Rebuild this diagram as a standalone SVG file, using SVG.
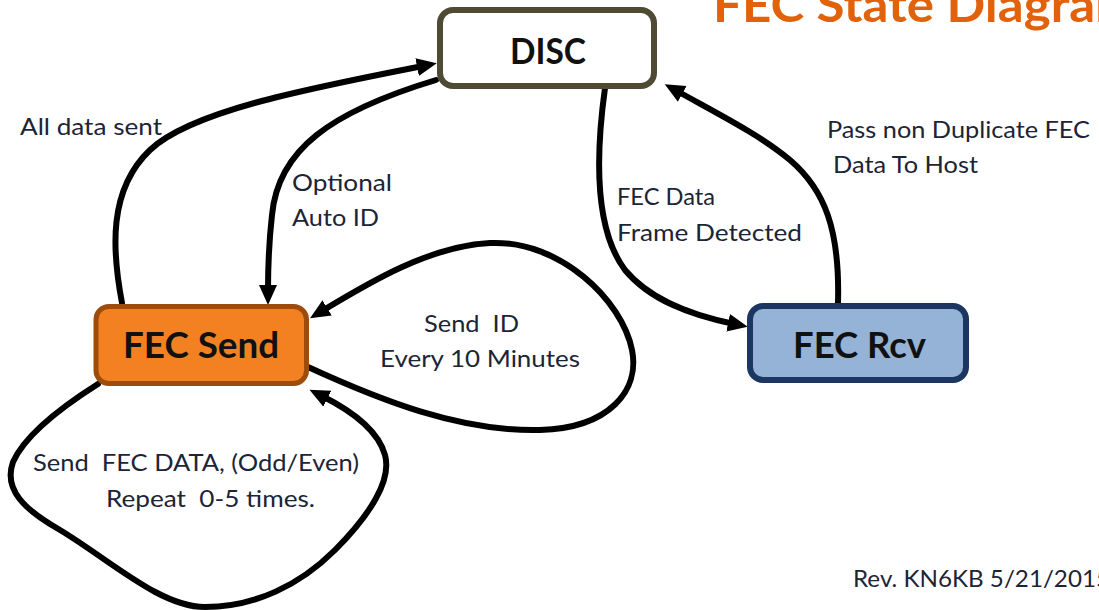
<svg xmlns="http://www.w3.org/2000/svg" width="1099" height="610" viewBox="0 0 1099 610">
<style>
.lbl{font-family:Lato,"Liberation Sans",sans-serif;font-size:24px;fill:#1c2436}
.ttl{font-family:Lato,"Liberation Sans",sans-serif;font-size:36px;font-weight:bold;fill:#111}
.edge{fill:none;stroke:#000;stroke-width:6;stroke-linecap:round}
</style>
<defs>
<marker id="ah" markerUnits="userSpaceOnUse" markerWidth="22" markerHeight="20" refX="6" refY="9" orient="auto">
<path d="M0,0 L20,9 L0,18 z" fill="#000"/>
</marker>
</defs>
<rect width="1099" height="610" fill="#fff"/>
<text x="713" y="22" textLength="425" lengthAdjust="spacingAndGlyphs" style="font-family:Lato,'Liberation Sans',sans-serif;font-size:48px;font-weight:bold;fill:#e2620c">FEC State Diagram</text>
<g id="connectors">
<path class="edge" marker-end="url(#ah)" d="M122,303 C112,250 108,190 150,150 C190,112 300,90 423,66"/>
<path class="edge" marker-end="url(#ah)" d="M436,80 C330,112 278,150 272,215 C268,250 268,270 268,291"/>
<path class="edge" marker-end="url(#ah)" d="M605,88 C595,160 595,230 625,270 C650,300 690,315 734,324"/>
<path class="edge" marker-end="url(#ah)" d="M838,303 C840,230 825,190 790,160 C760,135 720,115 677,91"/>
<path class="edge" marker-end="url(#ah)" d="M308,367 C380,400 460,432 540,430 C610,428 640,390 632,350 C622,300 560,240 490,243 C430,246 370,282 322,311"/>
<path class="edge" marker-end="url(#ah)" d="M98,384 C60,408 25,435 13,462 C3,490 25,510 60,530 C110,560 160,607 205,607 C255,607 300,585 335,550 C370,515 392,480 385,455 C378,430 350,410 322,396"/>
</g>
<g id="labels">
<text class="lbl" x="20" y="135" textLength="142" lengthAdjust="spacingAndGlyphs">All data sent</text>
<text class="lbl" x="292" y="191" textLength="100" lengthAdjust="spacingAndGlyphs">Optional</text>
<text class="lbl" x="292" y="226" textLength="87" lengthAdjust="spacingAndGlyphs">Auto ID</text>
<text class="lbl" x="617" y="205" textLength="98" lengthAdjust="spacingAndGlyphs">FEC Data</text>
<text class="lbl" x="617" y="241" textLength="185" lengthAdjust="spacingAndGlyphs">Frame Detected</text>
<text class="lbl" x="827" y="138" textLength="263" lengthAdjust="spacingAndGlyphs">Pass non Duplicate FEC</text>
<text class="lbl" x="833" y="173" textLength="145" lengthAdjust="spacingAndGlyphs">Data To Host</text>
<text class="lbl" x="424" y="332" textLength="95" lengthAdjust="spacingAndGlyphs" xml:space="preserve">Send  ID</text>
<text class="lbl" x="380" y="367" textLength="200" lengthAdjust="spacingAndGlyphs">Every 10 Minutes</text>
<text class="lbl" x="33" y="471" textLength="326" lengthAdjust="spacingAndGlyphs" xml:space="preserve">Send  FEC DATA, (Odd/Even)</text>
<text class="lbl" x="106" y="507" textLength="209" lengthAdjust="spacingAndGlyphs" xml:space="preserve">Repeat  0-5 times.</text>
<text class="lbl" x="853" y="587" textLength="257" lengthAdjust="spacingAndGlyphs">Rev. KN6KB 5/21/2015</text>
</g>
<g id="node-disc">
<rect x="440" y="10" width="214" height="76" rx="13" fill="#fff" stroke="#4f4a33" stroke-width="6"/>
<text class="ttl" x="510" y="64" textLength="76" lengthAdjust="spacingAndGlyphs">DISC</text>
</g>
<g id="node-fec-send">
<rect x="96" y="306.5" width="210.5" height="77" rx="13" fill="#f38121" stroke="#9e4c0c" stroke-width="5"/>
<text class="ttl" x="123" y="358" textLength="156" lengthAdjust="spacingAndGlyphs">FEC Send</text>
</g>
<g id="node-fec-rcv">
<rect x="750" y="306" width="216" height="74" rx="13" fill="#95b3d7" stroke="#1b3660" stroke-width="6"/>
<text class="ttl" x="793" y="358" textLength="133" lengthAdjust="spacingAndGlyphs">FEC Rcv</text>
</g>
</svg>
